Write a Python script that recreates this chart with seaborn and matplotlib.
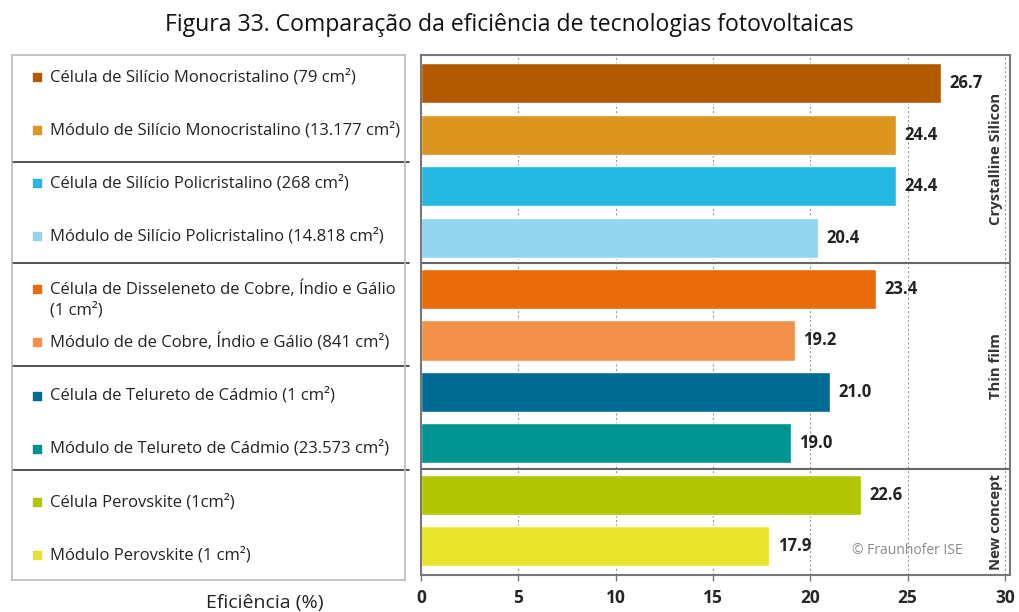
import numpy as np
import pandas as pd
import matplotlib
matplotlib.use("Agg")
import matplotlib.pyplot as plt
import seaborn as sns

labels = [
    "Célula de Silício Monocristalino (79 cm²)",
    "Módulo de Silício Monocristalino (13.177 cm²)",
    "Célula de Silício Policristalino (268 cm²)",
    "Módulo de Silício Policristalino (14.818 cm²)",
    "Célula de Disseleneto de Cobre, Índio e Gálio\n(1 cm²)",
    "Módulo de de Cobre, Índio e Gálio (841 cm²)",
    "Célula de Telureto de Cádmio (1 cm²)",
    "Módulo de Telureto de Cádmio (23.573 cm²)",
    "Célula Perovskite (1cm²)",
    "Módulo Perovskite (1 cm²)",
]
efficiency = [26.7, 24.4, 24.4, 20.4, 23.4, 19.2, 21.0, 19.0, 22.6, 17.9]
colors = ["#B35A00", "#DC9620", "#25B8E0", "#94D5EE", "#E96B0C",
          "#F3914A", "#006B93", "#009490", "#B2C700", "#E8E42B"]
groups = ["Crystalline Silicon", "Thin film", "New concept"]
group_sizes = [4, 4, 2]
xticks = [0, 5, 10, 15, 20, 25, 30]

df = pd.DataFrame({"label": labels, "eff": efficiency})

sns.set_style("white")
plt.rcParams["font.family"] = ["Open Sans", "DejaVu Sans"]

fig = plt.figure(figsize=(10.19, 6.12), dpi=100)

# bar panel
ax = fig.add_axes([421 / 1019, 37 / 612, 589 / 1019, 520 / 612])
sns.barplot(data=df, x="eff", y="label", hue="label", palette=colors,
            legend=False, width=0.78, saturation=1, ax=ax)
for c in ax.containers:
    ax.bar_label(c, fmt="%.1f", padding=6, fontsize=12, fontweight="bold",
                 color="#222222")
ax.set_xlim(0, 30.26)
ax.set_ylim(9.56, -0.55)
ax.set_xticks(xticks)
ax.set_xticklabels([str(t) for t in xticks], fontsize=12.5, fontweight="bold")
ax.tick_params(axis="x", bottom=True, length=4, width=1, color="#777777", pad=6)
ax.set_yticks([])
ax.set_xlabel("")
ax.set_ylabel("")
ax.xaxis.grid(True, linestyle=(0, (2, 2)), color="#999999", linewidth=0.8)
ax.set_axisbelow(True)
for s in ax.spines.values():
    s.set_color("#777777")
    s.set_linewidth(1.5)

# group separators and names
start = 0
for name, n in zip(groups, group_sizes):
    end = start + n
    if end < len(labels):
        ax.axhline(end - 0.5, color="#666666", linewidth=1.5)
    top = -0.55 if start == 0 else start - 0.5
    bot = 9.56 if end == len(labels) else end - 0.5
    ax.text(29.55, (top + bot) / 2, name, rotation=90, ha="center",
            va="center", fontsize=10.7, fontweight="bold", color="#333333")
    start = end

ax.text(25, 9.08, "© Fraunhofer ISE", ha="center", va="center",
        fontsize=10, color="#8a8a8a")

# legend panel on the left
lax = fig.add_axes([12 / 1019, 32 / 612, 393 / 1019, 525 / 612])
lax.set_xlim(0, 1)
lax.set_ylim(9.47, -0.41)
lax.set_xticks([])
lax.set_yticks([])
for s in lax.spines.values():
    s.set_color("#bbbbbb")
    s.set_linewidth(1.2)
for i, (lab, col) in enumerate(zip(labels, colors)):
    y = i + 0.19 if "\n" in lab else i
    lax.scatter([0.064], [i], marker="s", s=40, color=col)
    lax.text(0.097, y, lab, ha="left", va="center", fontsize=12,
             color="#222222", linespacing=1.35)
for y in [1.6, 3.5, 5.45, 7.4]:
    lax.plot([0, 1.01], [y, y], color="#444444", linewidth=1.3,
             clip_on=False)

fig.text(0.5, 1 - 25 / 612, "Figura 33. Comparação da eficiência de tecnologias fotovoltaicas",
         ha="center", va="center", fontsize=16.6, color="#111111")
fig.text(265 / 1019, 1 - 603 / 612, "Eficiência (%)", ha="center",
         va="center", fontsize=14, color="#222222")

fig.savefig("out.png", dpi=100)
